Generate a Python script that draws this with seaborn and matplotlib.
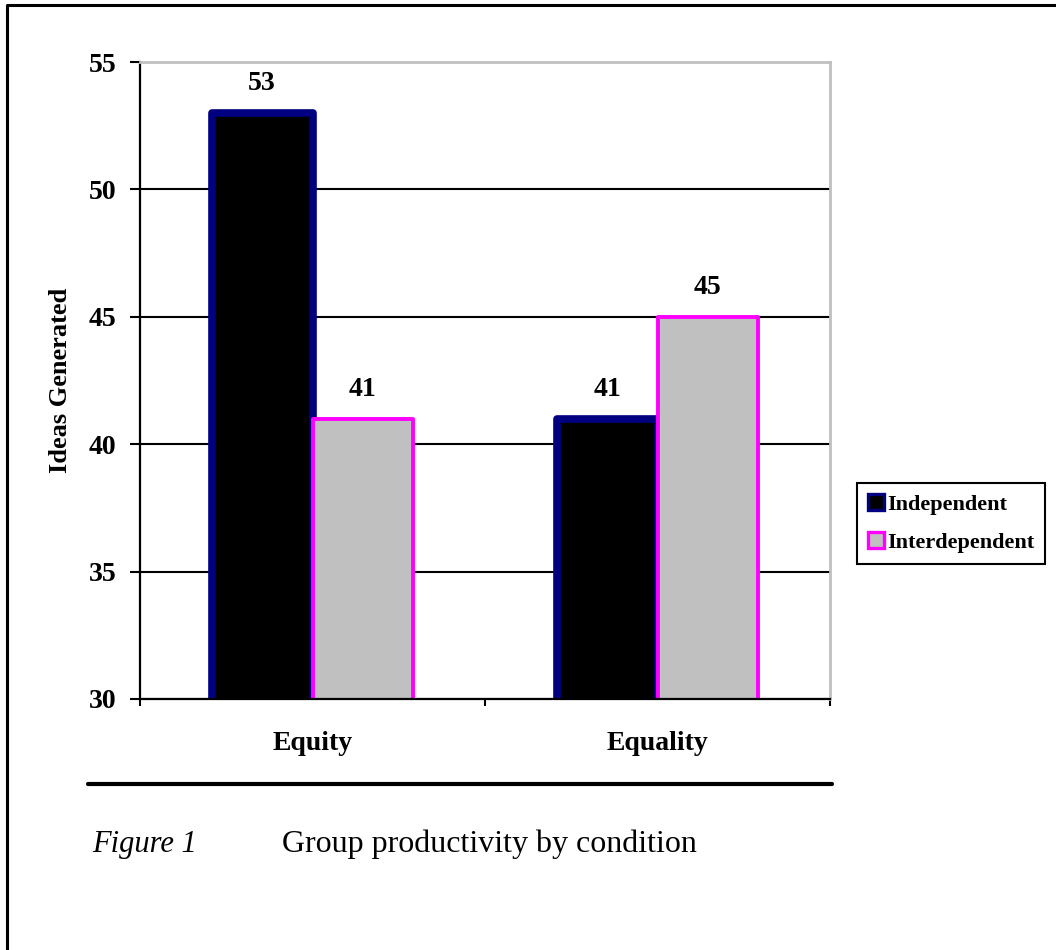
import pandas as pd
import seaborn as sns
import matplotlib.pyplot as plt
import matplotlib.patches as mpatches
from matplotlib.lines import Line2D

# data
conditions = ['Equity', 'Equality']
groups = ['Independent', 'Interdependent']
independent = [53, 41]
interdependent = [41, 45]

fills = ['#000000', '#C0C0C0']
edges = ['#000080', '#FF00FF']
edge_widths = [5.5, 2.8]

df = pd.DataFrame({
    'condition': conditions * 2,
    'group': [groups[0]] * 2 + [groups[1]] * 2,
    'ideas': independent + interdependent,
})

sns.set_theme(style='white')
plt.rcParams['font.family'] = ['Liberation Serif', 'DejaVu Serif']
plt.rcParams['text.color'] = 'black'
plt.rcParams['axes.labelcolor'] = 'black'
plt.rcParams['xtick.color'] = 'black'
plt.rcParams['ytick.color'] = 'black'

fig = plt.figure(figsize=(10.56, 9.5), dpi=100)
ax = fig.add_axes([140 / 1056, 1 - 699 / 950, 690 / 1056, 637 / 950])

sns.barplot(data=df, x='condition', y='ideas', hue='group', order=conditions,
            hue_order=groups, palette=fills, width=0.585, saturation=1,
            legend=False, ax=ax)

for cont, ec, lw in zip(ax.containers, edges, edge_widths):
    for bar in cont:
        bar.set_edgecolor(ec)
        bar.set_linewidth(lw)
        bar.set_joinstyle('round')
    ax.bar_label(cont, fmt='%d', padding=12, fontsize=20, fontweight='bold',
                 color='black')

# axes styling
ax.set_ylim(30, 55)
ax.set_yticks([30, 35, 40, 45, 50, 55])
ax.set_xlim(-0.5, 1.5)
ax.yaxis.grid(True, color='black', linewidth=1.5)
ax.set_axisbelow(True)
for side in ['left', 'bottom']:
    ax.spines[side].set_color('black')
    ax.spines[side].set_linewidth(1.6)
for side in ['top', 'right']:
    ax.spines[side].set_color('#C0C0C0')
    ax.spines[side].set_linewidth(2)

ax.tick_params(axis='y', length=7, width=1.5, color='black', pad=10,
               labelsize=20, left=True, labelcolor='black')
ax.tick_params(axis='x', which='major', length=0, pad=23, labelsize=20,
               labelcolor='black')
ax.set_xticks([-0.5, 0.5, 1.5], minor=True)
ax.tick_params(axis='x', which='minor', length=5, width=1.5, color='black',
               bottom=True, direction='out')
for lab in ax.get_xticklabels() + ax.get_yticklabels():
    lab.set_fontweight('bold')

ax.set_xlabel('')
ax.set_ylabel('Ideas Generated', fontsize=19, fontweight='bold', color='black')
ax.yaxis.set_label_coords(-0.0986, 0.5)

handles = [mpatches.Patch(facecolor=f, edgecolor=e, linewidth=2.4, label=g)
           for f, e, g in zip(fills, edges, groups)]
leg = fig.legend(handles=handles, loc='upper left',
                 bbox_to_anchor=(857 / 1056, 1 - 483 / 950),
                 prop={'size': 16, 'weight': 'bold'},
                 frameon=True, fancybox=False, framealpha=1,
                 handlelength=0.7, handleheight=0.7, handletextpad=0.15,
                 borderpad=0.5, labelspacing=0.8, borderaxespad=0)
leg.get_frame().set_edgecolor('black')
leg.get_frame().set_linewidth(1.5)
for t in leg.get_texts():
    t.set_color('black')

# rule and caption below the chart
fig.add_artist(Line2D([88 / 1056, 832 / 1056], [1 - 784 / 950] * 2,
                      color='black', linewidth=3))
fig.text(92 / 1056, 1 - 852 / 950, 'Figure 1', fontsize=22, style='italic',
         va='baseline', color='black')
fig.text(282 / 1056, 1 - 852 / 950, 'Group productivity by condition',
         fontsize=23, va='baseline', color='black')

# page frame (left and top edges)
fig.add_artist(Line2D([7 / 1056, 7 / 1056, 1], [0, 1 - 5 / 950, 1 - 5 / 950],
                      color='black', linewidth=2.2))

fig.savefig('out.png', dpi=100, facecolor='white')
